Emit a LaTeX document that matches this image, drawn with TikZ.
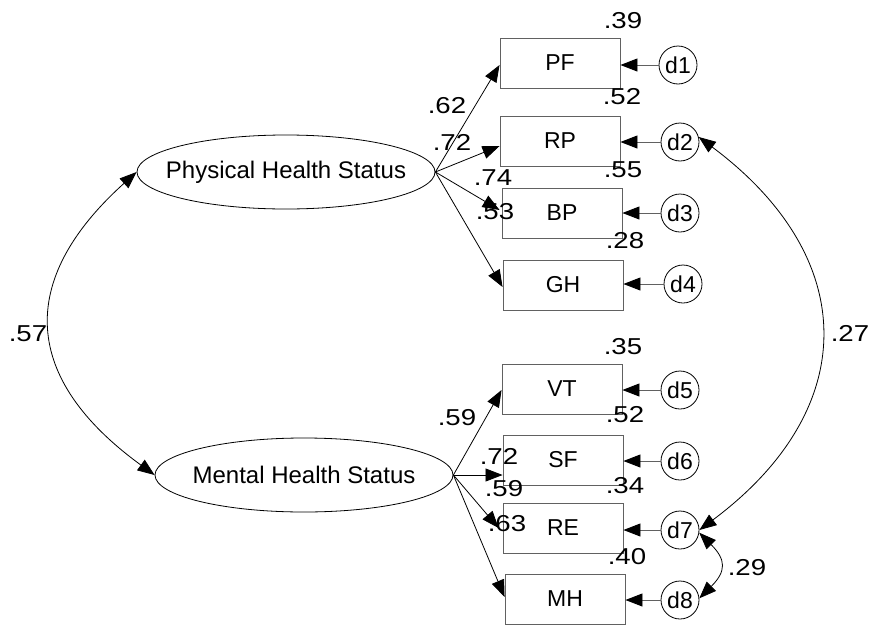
\documentclass[tikz,border=0pt]{standalone}
\usepackage{fontspec}
\setmainfont{Liberation Sans}
\newfontfamily\lblfont[FakeStretch=1.2]{Liberation Sans}
\usetikzlibrary{shapes.geometric,arrows.meta}
\begin{document}
\begin{tikzpicture}[x=1pt,y=-1pt,
  lat/.style={ellipse,draw=black,line width=0.8pt,minimum width=298pt,minimum height=74pt,inner sep=0pt,font=\fontsize{24}{28}\selectfont},
  obs/.style={rectangle,draw=black!62,line width=0.9pt,minimum width=120pt,minimum height=50pt,inner sep=0pt,font=\fontsize{23}{27}\selectfont},
  err/.style={circle,draw=black,line width=0.8pt,minimum size=38pt,inner sep=0pt,font=\fontsize{23}{27}\selectfont},
  lbl/.style={inner sep=0pt,font=\lblfont\fontsize{23}{27}\selectfont},
  tip/.style={-{Triangle[length=17pt,width=13pt,black]}},
  dtip/.style={{Triangle[length=17pt,width=13pt,black]}-{Triangle[length=17pt,width=13pt,black]}},
  path/.style={line width=0.8pt,black},
  epath/.style={line width=0.9pt,draw=black!62}
]
\useasboundingbox (0,0) rectangle (871,627);
% latent variables
\node[lat] (PHS) at (286,172) {\makebox[0pt]{Physical Health Status}};
\node[lat] (MHS) at (304,475) {\makebox[0pt]{Mental Health Status}};
% observed
\node[obs] (PF) at (560,63) {PF};
\node[obs] (RP) at (560,141) {RP};
\node[obs] (BP) at (562,213) {BP};
\node[obs] (GH) at (563,285) {GH};
\node[obs] (VT) at (562,389) {VT};
\node[obs] (SF) at (563,460) {SF};
\node[obs] (RE) at (563,528) {RE};
\node[obs] (MH) at (565,599) {MH};
% errors
\node[err] (d1) at (678,65) {d1};
\node[err] (d2) at (680,142) {d2};
\node[err] (d3) at (680,213) {d3};
\node[err] (d4) at (683,284) {d4};
\node[err] (d5) at (680,390) {d5};
\node[err] (d6) at (680,461) {d6};
\node[err] (d7) at (680,530) {d7};
\node[err] (d8) at (680,600) {d8};
% error arrows
\foreach \d/\b in {d1/PF,d2/RP,d3/BP,d4/GH,d5/VT,d6/SF,d7/RE,d8/MH}
  \draw[epath,tip] (\d.west) -- (\d.west -| \b.east);
% loadings
\draw[path,tip] (PHS.east) -- ([yshift=-2pt]PF.west);
\draw[path,tip] (PHS.east) -- ([yshift=-5pt]RP.west);
\draw[path,tip] (PHS.east) -- ([xshift=-2pt,yshift=3pt]BP.west);
\draw[path,tip] (PHS.east) -- ([yshift=-2pt]GH.west);
\draw[path,tip] (MHS.east) -- ([yshift=-1pt]VT.west);
\draw[path,tip] (MHS.east) -- (MHS.east -| SF.west);
\draw[path,tip] (MHS.east) -- ([xshift=-4pt]RE.west);
\draw[path,tip] (MHS.east) -- ([yshift=2pt]MH.west);
% covariances
\draw[path,dtip] (PHS.west) .. controls +(-121,109) and +(-132,-96) .. (MHS.west);
\draw[path,dtip] (d2.15) .. controls +(162,121) and +(162,-121) .. (d7.east);
\draw[path,dtip] (d7.-8) .. controls +(27,27) and +(27,-27) .. (d8.5);
% labels
\node[lbl] (l39) at (623,21) {.39};
\node[lbl] (l62) at (447,106) {.62};
\node[lbl] (l52a) at (622,97) {.52};
\node[lbl] (l72a) at (452,142) {.72};
\node[lbl] (l74) at (493,178) {.74};
\node[lbl] (l55) at (623,170) {.55};
\node[lbl] (l53) at (495,212) {.53};
\node[lbl] (l28) at (625,241) {.28};
\node[lbl] (l35) at (623,347) {.35};
\node[lbl] (l59a) at (457,418) {.59};
\node[lbl] (l52b) at (625,415) {.52};
\node[lbl] (l72b) at (499,456) {.72};
\node[lbl] (l59b) at (504,489) {.59};
\node[lbl] (l34) at (625,486) {.34};
\node[lbl] (l63) at (507,524) {.63};
\node[lbl] (l40) at (627,557) {.40};
\node[lbl] (l57) at (28,334) {.57};
\node[lbl] (l27) at (850,333) {.27};
\node[lbl] (l29) at (747,568) {.29};
\end{tikzpicture}
\end{document}
